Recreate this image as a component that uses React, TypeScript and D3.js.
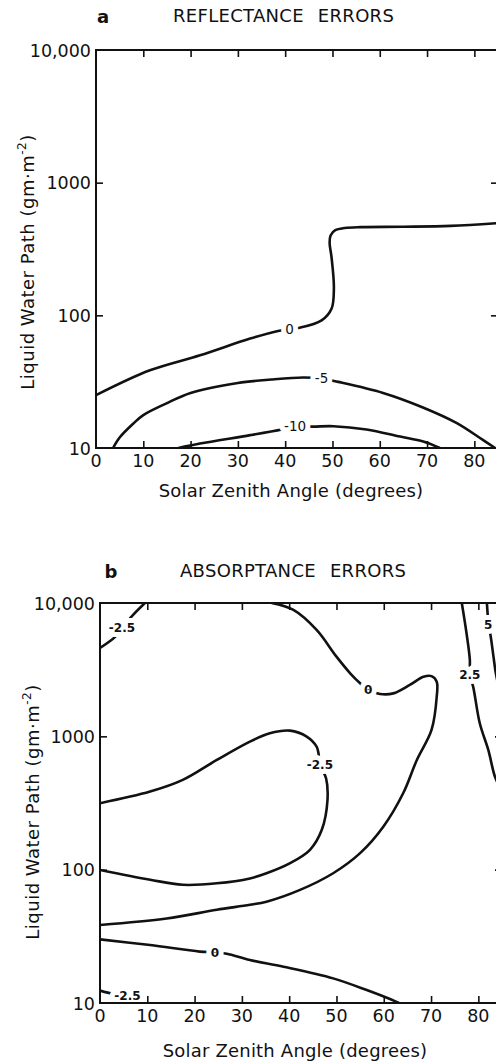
import { useEffect, useRef } from "react";
import * as d3 from "d3";

type Pt = [number, number];

// shared axes: solar zenith angle (degrees) vs liquid water path (g m^-2, log)
const angleTicks = [0, 10, 20, 30, 40, 50, 60, 70, 80];
const lwpTicks = [10, 100, 1000, 10000];
const lwpTickLabels = ["10", "100", "1000", "10,000"];

// (a) reflectance error contours, points are [angle, lwp]
const reflZero: Pt[] = [
  [0, 25], [11.4, 38.5], [22, 50], [32.6, 66.8], [38.5, 76.2], [40.9, 79], [43.1, 80.7],
  [47.7, 91.5], [49.8, 112], [50.3, 160], [49.8, 274], [49.4, 350], [49.6, 400],
  [50.6, 438], [52.6, 455], [56, 462], [65, 465], [75, 472], [85, 495],
];
const reflMinus5: Pt[] = [
  [3.6, 10], [5, 12], [7.9, 15.3], [10, 17.7], [14.9, 21.7], [20, 26], [30, 30.9],
  [37, 32.8], [43.8, 34], [47.7, 33.4], [51.2, 31.5], [60.7, 26], [69, 20.3],
  [76.3, 15.4], [81.8, 11.5], [84.4, 10],
];
const reflMinus10: Pt[] = [
  [17.4, 10], [22, 10.8], [32.6, 12.5], [39.3, 13.8], [42.1, 14.5], [45.9, 14.5],
  [50.2, 14.6], [57.2, 13.8], [64.3, 12.2], [69.2, 11.2], [72.7, 10],
];
const reflLabels = ["0", "-5", "-10"];
const reflLabelAt: Pt[] = [[40.9, 79], [47.7, 33.4], [42.1, 14.5]];

// (b) absorptance error contours
const absMinus25Top: Pt[] = [[0, 4600], [3.2, 5570], [4.65, 6500], [7, 8150], [9.5, 10000]];
const absZeroUpper: Pt[] = [
  [36.3, 10000], [40.9, 8870], [45.8, 6280], [50, 3960], [52.9, 2970], [55, 2500],
  [56.7, 2230], [59.2, 2080], [62, 2100], [65.5, 2430], [68.4, 2800], [70.1, 2830],
  [71.2, 2570], [71.2, 1990], [70.1, 1117], [67, 665], [64.1, 374], [59.9, 210],
  [55, 133], [49.3, 94], [42.3, 70.5], [35.2, 57.5], [31.7, 54.5], [24.7, 50],
  [14.1, 43], [0, 38.5],
];
const absMinus25Loop: Pt[] = [
  [0, 315], [10.6, 385], [17.5, 471], [24.7, 665], [31.7, 912], [35.9, 1055],
  [40.2, 1104], [43.7, 995], [45.8, 837], [46.2, 746], [46.5, 610], [47.8, 485],
  [48.1, 333], [46.9, 199], [44.4, 141], [40.2, 112], [35.2, 94], [31.7, 86],
  [24.7, 79], [17.5, 77], [10.6, 84], [0, 99.5],
];
const absZeroLower: Pt[] = [
  [0, 30], [10.6, 27.2], [21.1, 24.3], [24.3, 24], [26.8, 23.4], [31.7, 21],
  [38.8, 18.7], [49.3, 15.3], [56.4, 12.5], [62.7, 10.2], [63.2, 10],
];
const absMinus25Low: Pt[] = [[0, 12.4], [2.8, 11.7], [5.8, 11.4], [7, 11.1], [8.5, 10]];
const absPlus25: Pt[] = [
  [76.5, 10000], [77.5, 5930], [78.2, 3740], [78.2, 2880], [78.9, 2360],
  [80.3, 1253], [82.1, 791], [83.5, 499], [84.5, 420],
];
const absPlus5: Pt[] = [
  [81.8, 10000], [82, 7900], [82.1, 6850], [82.5, 5930], [83.2, 3960], [83.7, 2970], [84.6, 2100],
];
const absLabels = ["-2.5", "0", "-2.5", "0", "-2.5", "2.5", "5"];
const absLabelAt: Pt[] = [
  [4.65, 6500], [56.7, 2230], [46.5, 610], [24.3, 24], [5.8, 11.4], [78.2, 2880], [82.1, 6850],
];

const panelA = {
  letter: "a", title: "REFLECTANCE ERRORS",
  left: 96, right: 498, top: 50, bottom: 448,
  letterX: 103, titleX: 173, titleY: 22,
  yTitleX: 34, yTitleY: 262, xTitleX: 291, xTitleY: 497,
  labelSize: 13.5, labelWeight: "normal",
  lines: [reflZero, reflMinus5, reflMinus10],
  labels: reflLabels, labelAt: reflLabelAt,
};

const panelB = {
  letter: "b", title: "ABSORPTANCE ERRORS",
  left: 100, right: 502, top: 603, bottom: 1003,
  letterX: 111, titleX: 180, titleY: 577,
  yTitleX: 39, yTitleY: 812, xTitleX: 295, xTitleY: 1057,
  labelSize: 12, labelWeight: "bold",
  lines: [absMinus25Top, absZeroUpper, absMinus25Loop, absZeroLower, absMinus25Low, absPlus25, absPlus5],
  labels: absLabels, labelAt: absLabelAt,
};

const ink = "#111";

function drawPanel(svg, p) {
  const x = d3.scaleLinear().domain([0, 85]).range([p.left, p.right]);
  const y = d3.scaleLog().domain([10, 10000]).range([p.bottom, p.top]);
  const g = svg.append("g");
  const clipId = "clip-" + p.letter;

  g.append("clipPath").attr("id", clipId)
    .append("rect")
    .attr("x", p.left).attr("y", p.top)
    .attr("width", p.right - p.left).attr("height", p.bottom - p.top);

  const line = d3.line<Pt>()
    .x((d) => x(d[0]))
    .y((d) => y(d[1]))
    .curve(d3.curveCatmullRom.alpha(0.5));

  g.append("g").attr("clip-path", `url(#${clipId})`)
    .selectAll("path")
    .data(p.lines)
    .join("path")
    .attr("d", (d) => line(d))
    .attr("fill", "none")
    .attr("stroke", ink)
    .attr("stroke-width", 2.6)
    .attr("stroke-linejoin", "round");

  // contour labels, white halo breaks the line under them
  g.append("g")
    .selectAll("text")
    .data(p.labels)
    .join("text")
    .attr("x", (d, i) => x(p.labelAt[i][0]))
    .attr("y", (d, i) => y(p.labelAt[i][1]))
    .attr("dy", "0.36em")
    .attr("text-anchor", "middle")
    .attr("font-size", p.labelSize)
    .attr("font-weight", p.labelWeight)
    .attr("stroke", "#fff")
    .attr("stroke-width", 10)
    .attr("stroke-linejoin", "round")
    .attr("paint-order", "stroke")
    .attr("fill", ink)
    .text((d) => d);

  // frame
  g.append("rect")
    .attr("x", p.left).attr("y", p.top)
    .attr("width", p.right - p.left).attr("height", p.bottom - p.top)
    .attr("fill", "none").attr("stroke", ink).attr("stroke-width", 2);

  const tickStyle = (sel) => {
    sel.select(".domain").remove();
    sel.selectAll("text").remove();
    sel.selectAll("line").attr("stroke", ink).attr("stroke-width", 1.6);
  };
  const inner = angleTicks.slice(1);
  const innerY = lwpTicks.slice(1, 3);
  g.append("g").attr("transform", `translate(0,${p.bottom})`)
    .call(d3.axisBottom(x).tickValues(inner).tickSizeInner(-7).tickSizeOuter(0)).call(tickStyle);
  g.append("g").attr("transform", `translate(0,${p.top})`)
    .call(d3.axisTop(x).tickValues(inner).tickSizeInner(-7).tickSizeOuter(0)).call(tickStyle);
  g.append("g").attr("transform", `translate(${p.left},0)`)
    .call(d3.axisLeft(y).tickValues(innerY).tickSizeInner(-7).tickSizeOuter(0)).call(tickStyle);
  g.append("g").attr("transform", `translate(${p.right},0)`)
    .call(d3.axisRight(y).tickValues(innerY).tickSizeInner(-7).tickSizeOuter(0)).call(tickStyle);

  // tick labels
  g.append("g")
    .selectAll("text")
    .data(angleTicks)
    .join("text")
    .attr("x", (d) => x(d))
    .attr("y", p.bottom + 19)
    .attr("text-anchor", "middle")
    .attr("font-size", 17.5)
    .attr("fill", ink)
    .text((d) => String(d));

  g.append("g")
    .selectAll("text")
    .data(lwpTicks)
    .join("text")
    .attr("x", p.left - 5)
    .attr("y", (d) => y(d) + 6.5)
    .attr("text-anchor", "end")
    .attr("font-size", 17.5)
    .attr("fill", ink)
    .text((d, i) => lwpTickLabels[i]);

  // titles
  g.append("text")
    .attr("x", p.letterX).attr("y", p.titleY + 1)
    .attr("text-anchor", "middle")
    .attr("font-size", 18).attr("font-weight", "bold")
    .attr("fill", ink)
    .text(p.letter);

  g.append("text")
    .attr("x", p.titleX).attr("y", p.titleY)
    .attr("font-size", 18)
    .attr("letter-spacing", 0.3)
    .attr("word-spacing", 8)
    .attr("fill", ink)
    .text(p.title);

  g.append("text")
    .attr("x", p.xTitleX).attr("y", p.xTitleY)
    .attr("text-anchor", "middle")
    .attr("font-size", 18)
    .attr("letter-spacing", 0.2)
    .attr("fill", ink)
    .text("Solar Zenith Angle (degrees)");

  const yt = g.append("text")
    .attr("transform", `translate(${p.yTitleX},${p.yTitleY}) rotate(-90)`)
    .attr("text-anchor", "middle")
    .attr("font-size", 18)
    .attr("letter-spacing", 0.5)
    .attr("fill", ink);
  yt.append("tspan").text("Liquid Water Path (gm·m");
  yt.append("tspan").attr("font-size", 12).attr("dy", -8).text("-2");
  yt.append("tspan").attr("dy", 8).text(")");
}

export default function App() {
  const ref = useRef<SVGSVGElement>(null);

  useEffect(() => {
    if (!ref.current) return;
    const svg = d3.select(ref.current);
    svg.selectAll("*").remove();
    drawPanel(svg, panelA);
    drawPanel(svg, panelB);
  }, []);

  return (
    <svg
      ref={ref}
      width={496}
      height={1061}
      fontFamily="DejaVu Sans"
      style={{ position: "absolute", left: 0, top: 0, background: "#fff" }}
    />
  );
}
